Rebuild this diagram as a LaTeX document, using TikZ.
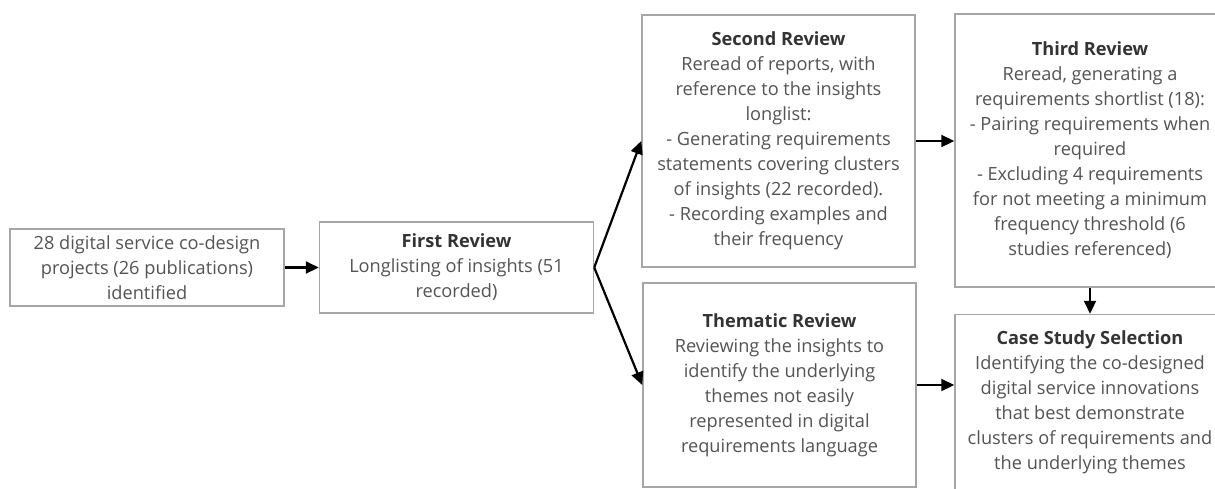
\documentclass[tikz,border=0pt]{standalone}
\usepackage{fontspec}
\setmainfont{Open Sans}
\usepackage{xcolor}
\usetikzlibrary{positioning, calc, arrows.meta}
\definecolor{boxgray}{RGB}{166, 166, 166}
\definecolor{bodygray}{RGB}{84, 84, 84}
\definecolor{titlegray}{RGB}{51, 51, 51}
\newcommand{\steptitle}[1]{{\color{titlegray}\bfseries #1}}

\begin{document}
\begin{tikzpicture}[
    x=1pt, y=-1pt,
    stage/.style={rectangle, draw=boxgray, fill=white, line width=1.5pt, minimum width=#1, align=center, inner sep=0pt, text=bodygray, font=\fontsize{18.2}{25}\selectfont},
    stage/.default=274pt,
    arrow/.style={-{Triangle[length=13pt, width=12pt]}, line width=2.2pt, black}
]
\useasboundingbox (0,0) rectangle (1215,488);
\clip (0,0) rectangle (1215,488);

% Stages
\node[stage, minimum height=77pt] (projects) at (147,267.5) {28 digital service co-design\\projects (26 publications)\\identified};
\node[stage, minimum height=91pt, right=34pt of projects.east, anchor=west] (first) {\steptitle{First Review}\\Longlisting of insights (51\\recorded)};
\node[stage=273pt, minimum height=252pt] (second) at (778.5,141) {\steptitle{Second Review}\\Reread of reports, with\\reference to the insights\\longlist:\\- Generating requirements\\statements covering clusters\\of insights (22 recorded).\\- Recording examples and\\their frequency};
\node[stage=273pt, minimum height=204pt] (thematic) at (779.5,385) {\steptitle{Thematic Review}\\Reviewing the insights to\\identify the underlying\\themes not easily\\represented in digital\\requirements language};
\node[stage=270pt, minimum height=273pt] (third) at (1090,150.5) {\steptitle{Third Review}\\Reread, generating a\\requirements shortlist (18):\\- Pairing requirements when\\required\\- Excluding 4 requirements\\for not meeting a minimum\\frequency threshold (6\\studies referenced)};
\node[stage=270pt, minimum height=175pt, below=26pt of third.south, anchor=north] (casestudy) {\steptitle{Case Study Selection}\\Identifying the co-designed\\digital service innovations\\that best demonstrate\\clusters of requirements and\\the underlying themes};

% Connectors
\draw[arrow] (projects) -- (first);
\draw[arrow] (first.east) -- (second.west);
\draw[arrow] (first.east) -- (thematic.west);
\draw[arrow] (second.east) -- (second.east -| third.west);
\draw[arrow] (third.south) -- (casestudy.north);
\draw[arrow] (thematic.east) -- (thematic.east -| casestudy.west);

\end{tikzpicture}
\end{document}
